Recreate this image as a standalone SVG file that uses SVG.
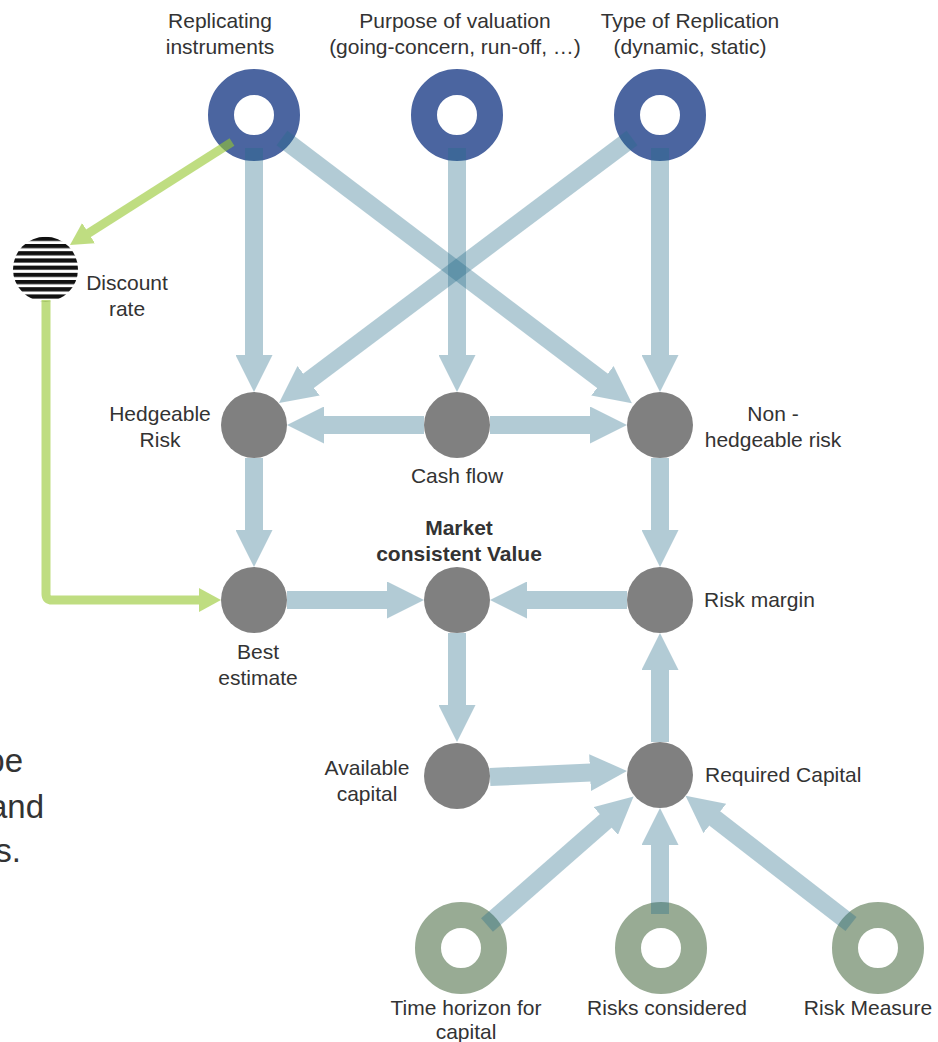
<svg xmlns="http://www.w3.org/2000/svg" width="938" height="1042" viewBox="0 0 938 1042">
<style>
text{font-family:"Liberation Sans",Arial,sans-serif;font-size:21px;fill:#333}
.b{font-weight:bold}
.m{text-anchor:middle}
.big{font-size:33px}
.ringB{fill:none;stroke:#4b65a0;stroke-width:26}
.ringG{fill:none;stroke:#98ab94;stroke-width:26}
.node{fill:#808080}
.ar{opacity:.35}
.ar line{stroke:#266d8a;stroke-width:18;fill:none}
.gr{opacity:.6}
.gr line,.gr path{stroke:#96c82f;stroke-width:9;fill:none}
</style>
<defs>
<marker id="hb" markerUnits="userSpaceOnUse" markerWidth="37" markerHeight="37" viewBox="0 0 37 37" refX="1" refY="18.5" orient="auto">
<path d="M0,0 L37,18.5 L0,37 Z" fill="#266d8a"/>
</marker>
<marker id="hg" markerUnits="userSpaceOnUse" markerWidth="22" markerHeight="24" viewBox="0 0 22 24" refX="1" refY="12" orient="auto">
<path d="M0,0 L22,12 L0,24 Z" fill="#96c82f"/>
</marker>
<pattern id="stripes" patternUnits="userSpaceOnUse" x="0" y="236.8" width="10" height="7.2">
<rect x="0" y="0" width="10" height="4.2" fill="#111"/>
</pattern>
</defs>

<g id="partial-text">
<text class="big" x="23" y="772" text-anchor="end">pe</text>
<text class="big" x="44" y="818" text-anchor="end">and</text>
<text class="big" x="21" y="862" text-anchor="end">s.</text>
</g>

<g id="n-replicating">
<circle class="ringB" cx="254" cy="115" r="33"/>
<text class="m" x="220" y="28">Replicating</text>
<text class="m" x="220" y="54">instruments</text>
</g>
<g id="n-purpose">
<circle class="ringB" cx="457" cy="115" r="33"/>
<text class="m" x="455" y="28">Purpose of valuation</text>
<text class="m" x="455" y="54">(going-concern, run-off, …)</text>
</g>
<g id="n-type">
<circle class="ringB" cx="660" cy="115" r="33"/>
<text class="m" x="690" y="28">Type of Replication</text>
<text class="m" x="690" y="54">(dynamic, static)</text>
</g>
<g id="n-discount">
<circle cx="45.5" cy="269.2" r="32.5" fill="url(#stripes)"/>
<text class="m" x="127" y="290">Discount</text>
<text class="m" x="127" y="316">rate</text>
</g>
<g id="n-hedgeable">
<circle class="node" cx="254" cy="425" r="33"/>
<text class="m" x="160" y="421">Hedgeable</text>
<text class="m" x="160" y="447">Risk</text>
</g>
<g id="n-cashflow">
<circle class="node" cx="457" cy="425" r="33"/>
<text class="m" x="457" y="483">Cash flow</text>
</g>
<g id="n-nonhedgeable">
<circle class="node" cx="660" cy="425" r="33"/>
<text class="m" x="773" y="421">Non -</text>
<text class="m" x="773" y="447">hedgeable risk</text>
</g>
<g id="n-best">
<circle class="node" cx="254" cy="600" r="33"/>
<text class="m" x="258" y="659">Best</text>
<text class="m" x="258" y="685">estimate</text>
</g>
<g id="n-mcv">
<circle class="node" cx="457" cy="600" r="33"/>
<text class="m b" x="459" y="535">Market</text>
<text class="m b" x="459" y="561">consistent Value</text>
</g>
<g id="n-riskmargin">
<circle class="node" cx="660" cy="600" r="33"/>
<text x="704" y="607">Risk margin</text>
</g>
<g id="n-available">
<circle class="node" cx="457" cy="776" r="33"/>
<text class="m" x="367" y="775">Available</text>
<text class="m" x="367" y="801">capital</text>
</g>
<g id="n-required">
<circle class="node" cx="660" cy="775" r="33"/>
<text x="705" y="782">Required Capital</text>
</g>
<g id="n-timehorizon">
<circle class="ringG" cx="461" cy="948" r="33"/>
<text class="m" x="466" y="1015">Time horizon for</text>
<text class="m" x="466" y="1039">capital</text>
</g>
<g id="n-risksconsidered">
<circle class="ringG" cx="661" cy="948" r="33"/>
<text class="m" x="667" y="1015">Risks considered</text>
</g>
<g id="n-riskmeasure">
<circle class="ringG" cx="878" cy="948" r="33"/>
<text class="m" x="868" y="1015">Risk Measure</text>
</g>

<g id="connectors">
<g class="ar"><line x1="254" y1="148" x2="254" y2="356" marker-end="url(#hb)"/></g>
<g class="ar"><line x1="282" y1="138" x2="603.2" y2="381.4" marker-end="url(#hb)"/></g>
<g class="ar"><line x1="457" y1="148" x2="457" y2="356" marker-end="url(#hb)"/></g>
<g class="ar"><line x1="632" y1="138" x2="307.8" y2="381.4" marker-end="url(#hb)"/></g>
<g class="ar"><line x1="660" y1="148" x2="660" y2="356" marker-end="url(#hb)"/></g>
<g class="ar"><line x1="424" y1="425" x2="323" y2="425" marker-end="url(#hb)"/></g>
<g class="ar"><line x1="490" y1="425" x2="591" y2="425" marker-end="url(#hb)"/></g>
<g class="ar"><line x1="254" y1="458" x2="254" y2="531" marker-end="url(#hb)"/></g>
<g class="ar"><line x1="660" y1="458" x2="660" y2="531" marker-end="url(#hb)"/></g>
<g class="ar"><line x1="287" y1="600" x2="388" y2="600" marker-end="url(#hb)"/></g>
<g class="ar"><line x1="627" y1="600" x2="526" y2="600" marker-end="url(#hb)"/></g>
<g class="ar"><line x1="457" y1="633" x2="457" y2="706" marker-end="url(#hb)"/></g>
<g class="ar"><line x1="490" y1="777" x2="591" y2="772.6" marker-end="url(#hb)"/></g>
<g class="ar"><line x1="660" y1="742" x2="660" y2="669" marker-end="url(#hb)"/></g>
<g class="ar"><line x1="487" y1="925" x2="606.5" y2="820.3" marker-end="url(#hb)"/></g>
<g class="ar"><line x1="660" y1="914" x2="660" y2="844" marker-end="url(#hb)"/></g>
<g class="ar"><line x1="851" y1="924" x2="714" y2="817.9" marker-end="url(#hb)"/></g>
<g class="gr"><line x1="232" y1="142" x2="87.7" y2="233.7" marker-end="url(#hg)"/></g>
<g class="gr"><path d="M46,300 V594 Q46,600 52,600 H200" marker-end="url(#hg)"/></g>
</g>
</svg>
